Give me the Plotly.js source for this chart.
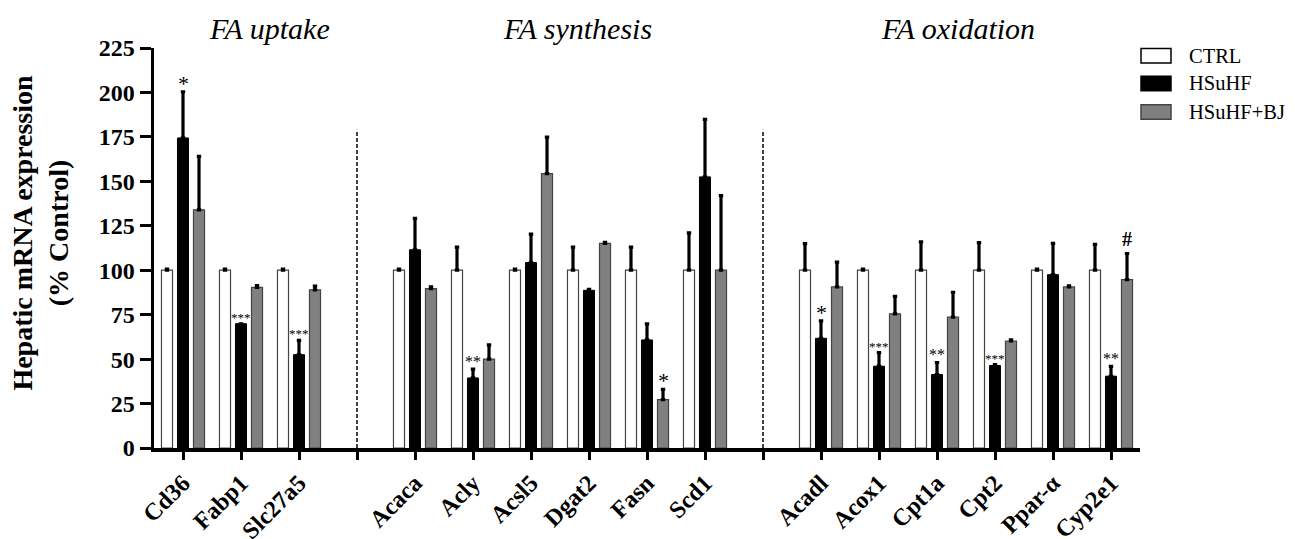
<!DOCTYPE html>
<html>
<head>
<meta charset="utf-8">
<script src="https://cdn.plot.ly/plotly-3.0.1.min.js"></script>
<style>html,body{margin:0;padding:0;background:#fff;}#chart{width:1295px;height:539px;}</style>
</head>
<body>
<div id="chart"></div>
<script>
// ---- data ----
const groupNames = ['FA uptake', 'FA synthesis', 'FA oxidation'];
const genesUptake = ['Cd36', 'Fabp1', 'Slc27a5'];
const genesSynthesis = ['Acaca', 'Acly', 'Acsl5', 'Dgat2', 'Fasn', 'Scd1'];
const genesOxidation = ['Acadl', 'Acox1', 'Cpt1a', 'Cpt2', 'Ppar-α', 'Cyp2e1'];
const seriesNames = ['CTRL', 'HSuHF', 'HSuHF+BJ'];

const ctrl     = [100, 100, 100,   100, 100, 100, 100, 100, 100,   100, 100, 100, 100, 100, 100];
const ctrlErr  = [0.6, 0.6, 0.6,   0.6, 13, 0.6, 13, 13, 21,       15, 0.6, 16, 15.5, 0.6, 14.5];
const hsuhf    = [174.4, 69.9, 52.5,   111.5, 39.4, 104.3, 88.7, 60.8, 152.5,   61.7, 46, 41.3, 46.4, 97.5, 40.4];
const hsuhfErr = [26, 0, 8,            17.7, 5, 16, 0.5, 9, 32.4,               9.8, 7.7, 6.8, 0.5, 17.6, 5.5];
const bj       = [134, 90.3, 89,   89.6, 50, 154.3, 115.1, 27.2, 100,   90.6, 75.5, 73.6, 60.2, 90.6, 94.7];
const bjErr    = [30, 1, 2,        1, 8, 20.6, 0.6, 5.8, 42,            14, 9.8, 14, 0.6, 0.6, 14.7];

const sigHSuHF = ['*', '***', '***',   '', '**', '', '', '', '',   '*', '***', '**', '***', '', '**'];
const sigBJ    = ['', '', '',          '', '', '', '', '*', '',    '', '', '', '', '', '#'];

// ---- build positions (gap slot between groups) ----
const groups = [genesUptake, genesSynthesis, genesOxidation];
const xs = [], labels = [], tickvals = [], ticktext = [], gapPos = [];
let slot = 0;
groups.forEach((g, gi) => {
  if (gi > 0) { tickvals.push(slot); ticktext.push(''); gapPos.push(slot); slot++; }
  g.forEach(name => { xs.push(slot); labels.push(name); tickvals.push(slot); ticktext.push(name); slot++; });
});

const serif = 'Liberation Serif, Times New Roman, serif';
const errStyle = (arr) => ({type: 'data', array: arr, arrayminus: arr.map(() => 0), symmetric: false,
  thickness: 3.2, width: 2.2, color: '#000'});

const traces = [
  {type: 'bar', name: seriesNames[0], x: xs, y: ctrl, error_y: errStyle(ctrlErr),
   marker: {color: '#ffffff', line: {color: '#444', width: 1.2}}},
  {type: 'bar', name: seriesNames[1], x: xs, y: hsuhf, error_y: errStyle(hsuhfErr),
   marker: {color: '#000000', line: {color: '#000', width: 1}}},
  {type: 'bar', name: seriesNames[2], x: xs, y: bj, error_y: errStyle(bjErr),
   marker: {color: '#808080', line: {color: '#444', width: 1.2}}}
];

const bargap = 0.172, bargroupgap = 0.31;
const barOffset = (1 - bargap) / 3; // distance between bar centers in data units

const annotations = [];
function sigFont(s) {
  if (s === '*') return 22;
  if (s === '**') return 16;
  if (s === '#') return 20;
  return 13;
}
xs.forEach((x, i) => {
  if (sigHSuHF[i]) annotations.push({x: x, y: hsuhf[i] + hsuhfErr[i], xref: 'x', yref: 'y',
    text: sigHSuHF[i], showarrow: false, yanchor: 'bottom', yshift: sigHSuHF[i] === '*' ? -6 : -3,
    font: {family: serif, size: sigFont(sigHSuHF[i]), color: '#000000'}});
  if (sigBJ[i]) annotations.push({x: x + barOffset, y: bj[i] + bjErr[i], xref: 'x', yref: 'y',
    text: sigBJ[i], showarrow: false, yanchor: 'bottom', yshift: sigBJ[i] === '*' ? -6 : 2,
    font: {family: serif, size: sigFont(sigBJ[i]), color: '#000000', weight: sigBJ[i] === '#' ? 'bold' : 'normal'}});
});

// group titles
const titleX = [1.49, 6.81, 13.36];
groupNames.forEach((g, i) => annotations.push({x: titleX[i], xref: 'x', y: 1.0475, yref: 'paper',
  text: '<i>' + g + '</i>', showarrow: false, xanchor: 'center', yanchor: 'middle',
  font: {family: serif, size: 30, color: '#000'}}));

// y axis title
annotations.push({x: -0.116, xref: 'paper', y: 0.5375, yref: 'paper', textangle: -90,
  text: '<b>Hepatic mRNA expression<br>(% Control)</b>', showarrow: false,
  xanchor: 'center', yanchor: 'middle', font: {family: serif, size: 28, color: '#000'}});

// custom legend
const shapes = [];
const legColors = [['#ffffff', '#000'], ['#000000', '#000'], ['#808080', '#444']];
const legY = [55.5, 83.2, 111.7];
const pxToPaperX = px => (px - 154) / 986;
const pxToPaperY = py => (448 - py) / 400;
seriesNames.forEach((n, i) => {
  shapes.push({type: 'rect', xref: 'paper', yref: 'paper',
    x0: pxToPaperX(1141), x1: pxToPaperX(1171), y0: pxToPaperY(legY[i] - 7), y1: pxToPaperY(legY[i] + 7.5),
    fillcolor: legColors[i][0], line: {color: legColors[i][1], width: 1.5}});
  annotations.push({x: pxToPaperX(1187), xref: 'paper', y: pxToPaperY(legY[i]), yref: 'paper',
    text: n, showarrow: false, xanchor: 'left', yanchor: 'middle',
    font: {family: serif, size: 20.5, color: '#000'}});
});

// dashed group separators
gapPos.forEach(g => shapes.push({type: 'line', xref: 'x', yref: 'y', x0: g, x1: g, y0: 0, y1: 179,
  line: {color: '#000', width: 1.5, dash: '4px,2px'}, layer: 'below'}));

const layout = {
  width: 1295, height: 539,
  margin: {l: 154, r: 155, t: 48, b: 91, pad: 0},
  paper_bgcolor: '#fff', plot_bgcolor: '#fff',
  showlegend: false,
  barmode: 'group', bargap: bargap, bargroupgap: bargroupgap,
  xaxis: {range: [-0.5, slot - 0.5], tickvals: tickvals, ticktext: ticktext, tickangle: -45,
    showgrid: false, zeroline: false, showline: true, linecolor: '#000', linewidth: 3.5,
    ticks: 'outside', ticklen: 8, tickwidth: 3, tickcolor: '#000',
    tickfont: {family: serif, size: 24, color: '#000', weight: 'bold'}, fixedrange: true},
  yaxis: {range: [0, 225], dtick: 25, tick0: 0, showgrid: false, zeroline: false,
    showline: true, linecolor: '#000', linewidth: 3.5,
    ticks: 'outside', ticklen: 11, tickwidth: 3, tickcolor: '#000',
    tickfont: {family: serif, size: 24, color: '#000', weight: 'bold'}, fixedrange: true},
  annotations: annotations,
  shapes: shapes
};

Plotly.newPlot('chart', traces, layout, {displayModeBar: false, staticPlot: true});
</script>
</body>
</html>
